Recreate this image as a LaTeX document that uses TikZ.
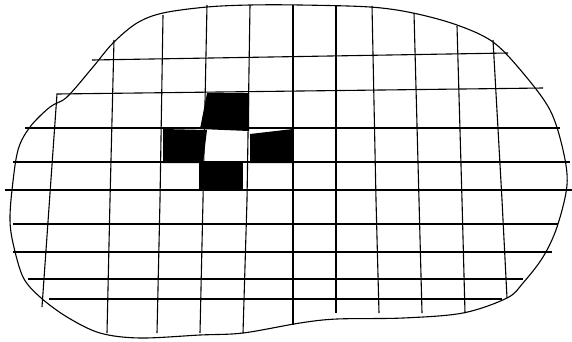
\documentclass[tikz,border=0pt]{standalone}
\usepackage{tikz}
\usetikzlibrary{calc}

\begin{document}
\begin{tikzpicture}[x=1pt, y=-1pt, line width=1.1pt]
    \useasboundingbox (0,0) rectangle (572,341);
    % black cells
    \fill (207,93) -- (249,93) -- (249,131) -- (200,129) -- cycle;
    \fill (163,129) -- (207,130) -- (203,163) -- (163,163) -- cycle;
    \fill (250,134) -- (293,129) -- (293,163) -- (250,163) -- cycle;
    \fill (199,163) -- (243,163) -- (243,190) -- (199,190) -- cycle;
    % outline
    \draw plot[smooth cycle, tension=0.55] coordinates {
      (12,190) (18,150) (30,127) (50,107) (67,97) (93,67) (113,43) (137,23)
      (163,13) (207,7) (250,5) (300,5) (370,7) (413,13) (457,25) (493,42)
      (523,73) (550,110) (563,150) (567,185) (557,227) (543,257) (523,283)
      (507,298) (463,313) (403,318) (337,319) (300,323) (243,333) (200,335)
      (140,338) (100,333) (67,317) (40,297) (23,277) (13,243) (10,220)};
    % horizontal lines
    \draw (92,60) -- (508,53);
    \draw (42,307) -- (57,94) -- (543,88);
    \draw (25,128) -- (560,128);
    \draw (13,162) -- (570,162);
    \draw (5,190) -- (572,190);
    \draw (13,224) -- (558,224);
    \draw (13,252) -- (552,252);
    \draw (28,279) -- (523,279);
    \draw (49,299) -- (502,299);
    % vertical lines
    \draw (114,40) -- (110,200) -- (107,333);
    \draw (163,15) -- (160,200) -- (157,333);
    \draw (207,5) -- (203,200) -- (200,333);
    \draw (250,5) -- (247,200) -- (243,333);
    \draw (293,5) -- (293,325);
    \draw (336,5) -- (336,313);
    \draw (372,6) -- (376,200) -- (379,313);
    \draw (414,13) -- (419,200) -- (422,313);
    \draw (457,26) -- (462,200) -- (465,313);
    \draw (493,40) -- (502,200) -- (507,298);
\end{tikzpicture}
\end{document}
